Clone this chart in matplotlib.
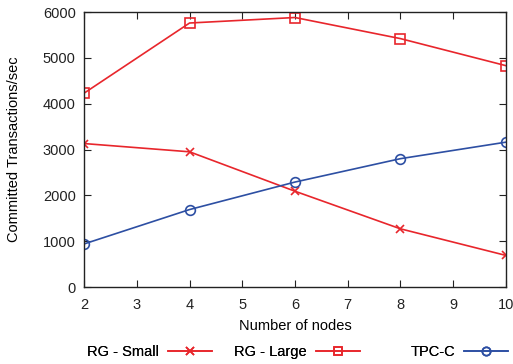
import matplotlib
matplotlib.use("Agg")
import matplotlib.pyplot as plt
from matplotlib.lines import Line2D

plt.rcParams["font.family"] = ["Liberation Sans", "DejaVu Sans"]
plt.rcParams["font.size"] = 10.5

nodes = [2, 4, 6, 8, 10]
rg_small = [3130, 2950, 2090, 1270, 690]
rg_large = [4230, 5760, 5880, 5420, 4830]
tpcc = [940, 1690, 2290, 2800, 3160]

RED = "#e8262c"
BLUE = "#2d4fa3"

fig = plt.figure(figsize=(5.13, 3.64), dpi=100)
ax = fig.add_axes([0.164, 0.2115, 0.822, 0.7555])

ax.plot(nodes, rg_small, color=RED, lw=1.2, marker="x", ms=6, mew=1.2)
ax.plot(nodes, rg_large, color=RED, lw=1.2, marker="s", ms=7, mfc="none", mew=1.2)
ax.plot(nodes, tpcc, color=BLUE, lw=1.2, marker="o", ms=7, mfc="none", mew=1.2)

ax.set_xlim(2, 10)
ax.set_ylim(0, 6000)
ax.set_xticks(range(2, 11))
ax.set_yticks(range(0, 6001, 1000))
ax.tick_params(direction="in", top=True, right=True, length=5, width=0.8,
               colors="#222222", labelsize=10.5)
ax.tick_params(axis="x", pad=8)
ax.tick_params(axis="y", pad=6)
for s in ax.spines.values():
    s.set_linewidth(1.0)
    s.set_color("#222222")
ax.set_xlabel("Number of nodes", labelpad=5)
ax.set_ylabel("Committed Transactions/sec", labelpad=16)

entries = [
    ("RG - Small", RED, "x", 0.170),
    ("RG - Large", RED, "s", 0.457),
    ("TPC-C", BLUE, "o", 0.800),
]
for label, col, mk, xpos in entries:
    h = Line2D([], [], color=col, lw=1.2, marker=mk, ms=6, mfc="none", mew=1.2)
    leg = fig.legend([h], [label], loc="center left", bbox_to_anchor=(xpos, 0.033),
                     frameon=False, markerfirst=False, handlelength=3.0,
                     handletextpad=0.6, borderpad=0, borderaxespad=0)
    fig.add_artist(leg)

fig.savefig("out.png", dpi=100)
